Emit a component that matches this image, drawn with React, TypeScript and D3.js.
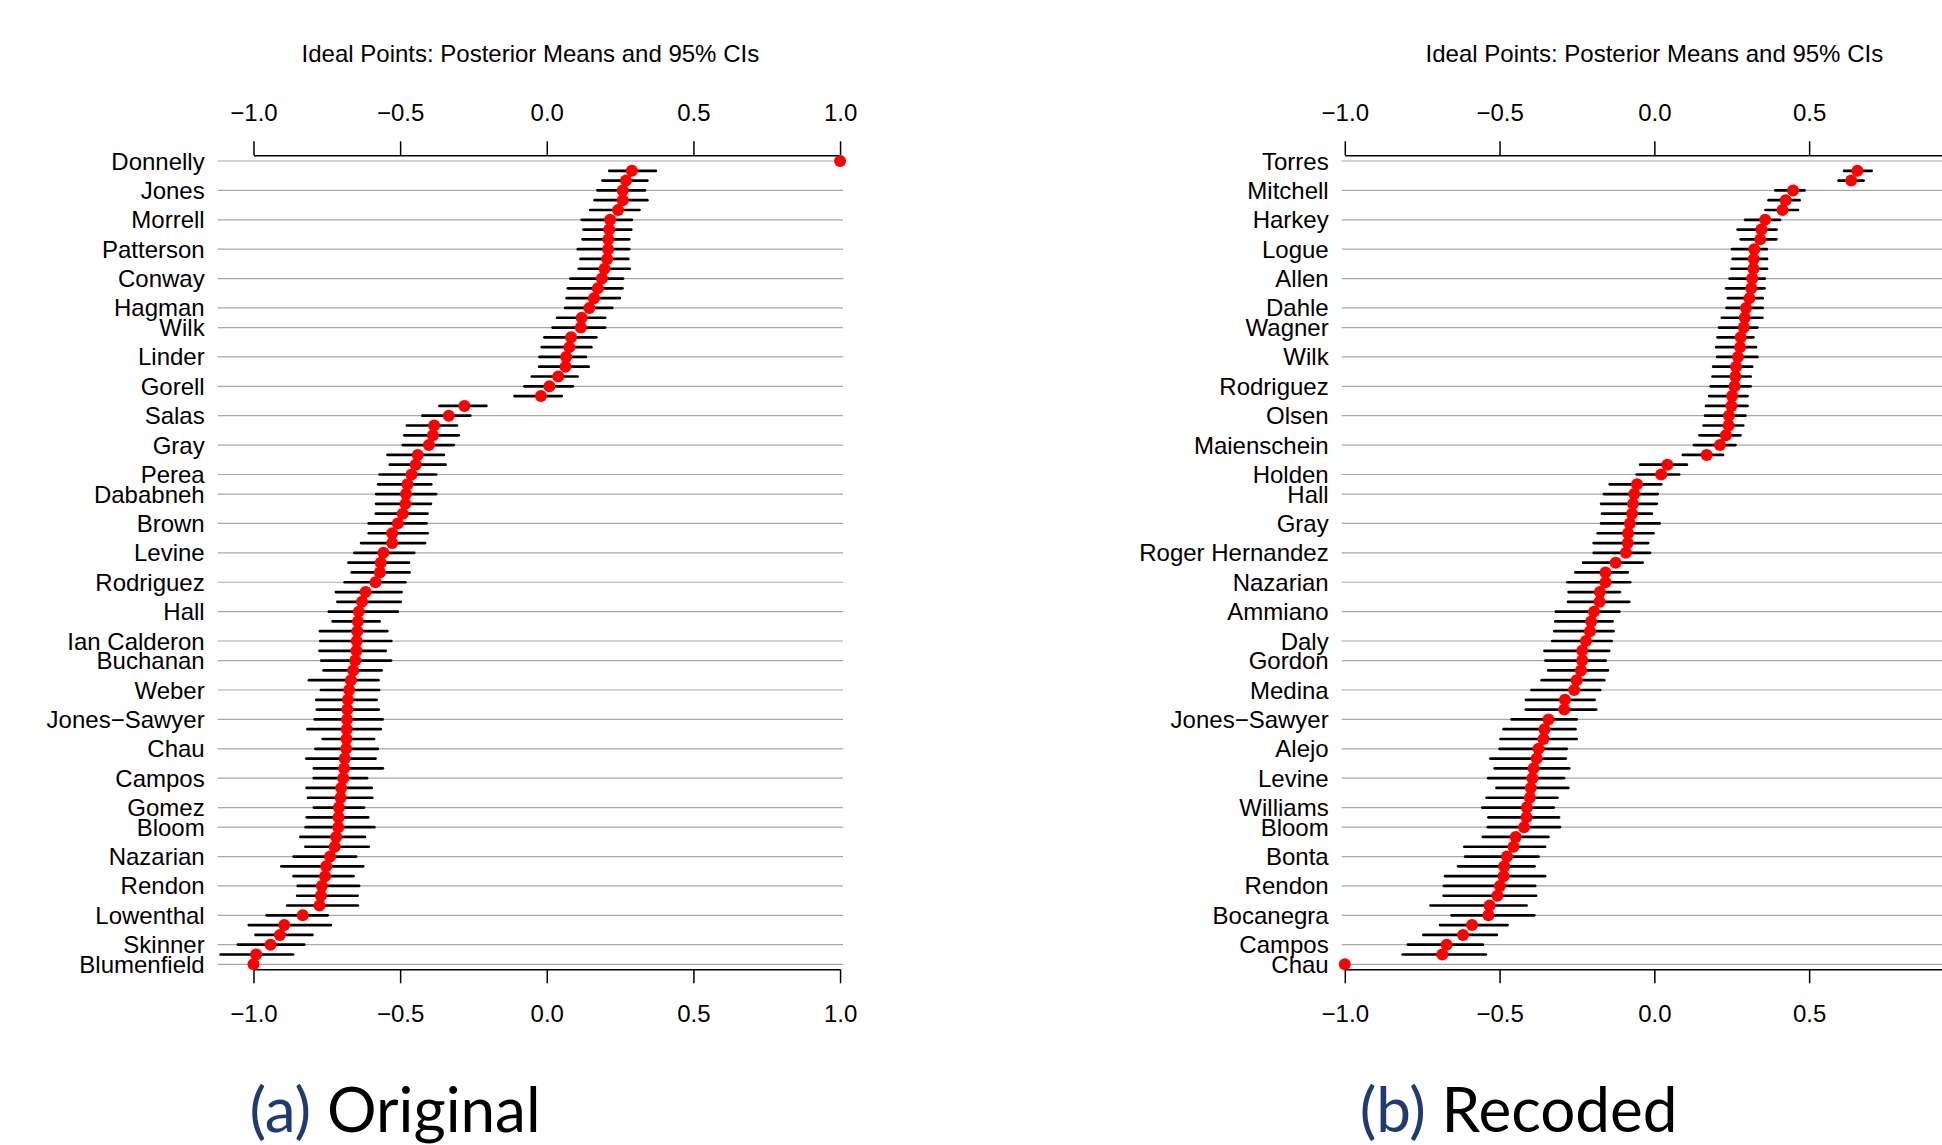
import React, { useRef, useEffect } from "react";
import * as d3 from "d3";

// rows that get a name and a grey guide line (same in both panels)
const labelRows = [0, 3, 6, 9, 12, 15, 17, 20, 23, 26, 29, 32, 34, 37, 40, 43, 46, 49, 51, 54, 57, 60, 63, 66, 68, 71, 74, 77, 80, 82];

const origNames = ["Donnelly", "Jones", "Morrell", "Patterson", "Conway", "Hagman", "Wilk", "Linder", "Gorell", "Salas", "Gray", "Perea", "Dababneh", "Brown", "Levine", "Rodriguez", "Hall", "Ian Calderon", "Buchanan", "Weber", "Jones\u2212Sawyer", "Chau", "Campos", "Gomez", "Bloom", "Nazarian", "Rendon", "Lowenthal", "Skinner", "Blumenfield"];
const recNames = ["Torres", "Mitchell", "Harkey", "Logue", "Allen", "Dahle", "Wagner", "Wilk", "Rodriguez", "Olsen", "Maienschein", "Holden", "Hall", "Gray", "Roger Hernandez", "Nazarian", "Ammiano", "Daly", "Gordon", "Medina", "Jones\u2212Sawyer", "Alejo", "Levine", "Williams", "Bloom", "Bonta", "Rendon", "Bocanegra", "Campos", "Chau"];

// (a) original coding: posterior means and 95% interval ends
const origEst = [1.0, 0.290, 0.270, 0.259, 0.259, 0.243, 0.216, 0.213, 0.210, 0.209, 0.206, 0.197, 0.188, 0.174, 0.161, 0.145, 0.119, 0.116, 0.083, 0.077, 0.066, 0.064, 0.039, 0.009, -0.020,
  -0.281, -0.334, -0.384, -0.388, -0.402, -0.440, -0.447, -0.461, -0.475, -0.480, -0.482, -0.491, -0.508, -0.527, -0.527, -0.557, -0.566, -0.569, -0.584, -0.618, -0.630, -0.641, -0.644, -0.646, -0.648, -0.649,
  -0.653, -0.660, -0.668, -0.674, -0.678, -0.680, -0.681, -0.682, -0.683, -0.684, -0.689, -0.691, -0.694, -0.701, -0.703, -0.709, -0.710, -0.711, -0.718, -0.723, -0.739, -0.752, -0.756, -0.767, -0.770, -0.775,
  -0.832, -0.895, -0.910, -0.942, -0.991, -1.0];
const origLo = [1.0, 0.213, 0.190, 0.173, 0.163, 0.148, 0.119, 0.125, 0.122, 0.106, 0.115, 0.109, 0.080, 0.072, 0.068, 0.063, 0.035, 0.020, -0.008, -0.017, -0.025, -0.026, -0.051, -0.076, -0.110,
  -0.366, -0.424, -0.477, -0.486, -0.491, -0.543, -0.535, -0.570, -0.575, -0.582, -0.582, -0.583, -0.607, -0.607, -0.633, -0.656, -0.676, -0.665, -0.689, -0.719, -0.714, -0.743, -0.730, -0.773, -0.772, -0.775,
  -0.769, -0.761, -0.811, -0.770, -0.786, -0.784, -0.791, -0.816, -0.764, -0.789, -0.820, -0.794, -0.794, -0.819, -0.814, -0.794, -0.818, -0.822, -0.840, -0.823, -0.863, -0.905, -0.863, -0.849, -0.851, -0.885,
  -0.955, -1.016, -0.993, -1.053, -1.112, -1.0];
const origHi = [1.0, 0.372, 0.343, 0.335, 0.343, 0.316, 0.290, 0.288, 0.281, 0.281, 0.278, 0.283, 0.260, 0.258, 0.249, 0.223, 0.199, 0.199, 0.169, 0.152, 0.133, 0.143, 0.105, 0.089, 0.051,
  -0.206, -0.261, -0.306, -0.300, -0.317, -0.351, -0.345, -0.377, -0.394, -0.377, -0.395, -0.407, -0.410, -0.406, -0.415, -0.452, -0.470, -0.468, -0.482, -0.495, -0.498, -0.508, -0.570, -0.544, -0.530, -0.549,
  -0.531, -0.563, -0.574, -0.572, -0.580, -0.573, -0.560, -0.566, -0.589, -0.576, -0.584, -0.559, -0.613, -0.597, -0.595, -0.623, -0.609, -0.588, -0.620, -0.607, -0.650, -0.626, -0.659, -0.640, -0.645, -0.644,
  -0.747, -0.736, -0.799, -0.827, -0.865, -1.0];

// (b) recoded
const recEst = [1.0, 0.656, 0.636, 0.448, 0.424, 0.414, 0.358, 0.346, 0.342, 0.323, 0.321, 0.320, 0.316, 0.313, 0.307, 0.296, 0.292, 0.289, 0.279, 0.277, 0.270, 0.264, 0.262, 0.259, 0.251, 0.249,
  0.241, 0.240, 0.231, 0.212, 0.169, 0.042, 0.022, -0.056, -0.065, -0.069, -0.072, -0.079, -0.085, -0.086, -0.092, -0.125, -0.158, -0.158, -0.176, -0.177, -0.195, -0.204, -0.208, -0.221, -0.233,
  -0.233, -0.237, -0.251, -0.259, -0.289, -0.291, -0.342, -0.355, -0.358, -0.374, -0.380, -0.390, -0.394, -0.399, -0.402, -0.412, -0.413, -0.421, -0.448, -0.455, -0.476, -0.485, -0.487, -0.499, -0.507,
  -0.532, -0.536, -0.589, -0.618, -0.671, -0.685, -1.0];
const recLo = [1.0, 0.613, 0.595, 0.391, 0.369, 0.359, 0.293, 0.269, 0.279, 0.251, 0.253, 0.249, 0.243, 0.232, 0.238, 0.233, 0.218, 0.209, 0.204, 0.200, 0.203, 0.190, 0.188, 0.182, 0.177, 0.167,
  0.164, 0.159, 0.146, 0.128, 0.092, -0.046, -0.057, -0.144, -0.163, -0.172, -0.169, -0.172, -0.183, -0.196, -0.196, -0.230, -0.255, -0.281, -0.277, -0.279, -0.318, -0.320, -0.323, -0.330, -0.355,
  -0.352, -0.343, -0.364, -0.397, -0.415, -0.415, -0.461, -0.487, -0.497, -0.500, -0.530, -0.516, -0.537, -0.510, -0.542, -0.556, -0.536, -0.538, -0.554, -0.614, -0.611, -0.634, -0.676, -0.680, -0.681,
  -0.723, -0.655, -0.692, -0.746, -0.796, -0.813, -1.0];
const recHi = [1.0, 0.702, 0.676, 0.485, 0.469, 0.464, 0.406, 0.395, 0.394, 0.363, 0.364, 0.364, 0.357, 0.356, 0.350, 0.350, 0.349, 0.333, 0.320, 0.328, 0.333, 0.316, 0.311, 0.311, 0.301, 0.301,
  0.294, 0.287, 0.278, 0.262, 0.222, 0.105, 0.080, 0.022, 0.011, 0.008, -0.008, 0.017, -0.003, -0.020, -0.014, -0.038, -0.086, -0.078, -0.111, -0.081, -0.113, -0.135, -0.132, -0.138, -0.146,
  -0.157, -0.150, -0.162, -0.175, -0.193, -0.188, -0.251, -0.255, -0.251, -0.283, -0.286, -0.275, -0.292, -0.278, -0.313, -0.325, -0.308, -0.305, -0.342, -0.353, -0.374, -0.387, -0.353, -0.385, -0.382,
  -0.413, -0.388, -0.474, -0.509, -0.554, -0.544, -1.0];

const xTicks = [-1.0, -0.5, 0.0, 0.5, 1.0];
const title = "Ideal Points: Posterior Means and 95% CIs";

const FONT = "'Liberation Sans', Arial, Helvetica, sans-serif";
const W = 1942;
const H = 1145;
const plotWidth = 625.3;
const plotTop = 155.3;
const plotBottom = 969.3;

interface PanelProps {
  est: number[];
  lo: number[];
  hi: number[];
  names: string[];
  left: number;
}

const Panel: React.FC<PanelProps> = ({ est, lo, hi, names, left }) => {
  const gRef = useRef<SVGGElement | null>(null);

  useEffect(() => {
    if (!gRef.current) return;
    const g = d3.select(gRef.current);
    g.selectAll("*").remove();

    const x = d3.scaleLinear()
      .domain([(d3.min(lo) as number) - 0.01, (d3.max(hi) as number) + 0.01])
      .range([0, plotWidth]);
    const y = d3.scaleLinear()
      .domain([0, est.length - 1])
      .range([161, 964.3]);

    // axis only spans -1..1, like R's axis(); ticks past the page edge are dropped
    const xa = d3.scaleLinear().domain([-1, 1]).range([x(-1), x(1)]);
    const ticks = xTicks.filter(t => left + xa(t) < W - 5);
    const fmt = d3.format(".1f");

    const top = g.append("g").attr("transform", `translate(0,${plotTop})`)
      .call(d3.axisTop(xa).tickValues(ticks).tickSize(14).tickSizeOuter(0).tickPadding(20).tickFormat(fmt as any));
    const bottom = g.append("g").attr("transform", `translate(0,${plotBottom})`)
      .call(d3.axisBottom(xa).tickValues(ticks).tickSize(14).tickSizeOuter(0).tickPadding(22).tickFormat(fmt as any));
    [top, bottom].forEach(a => {
      a.attr("font-size", 24).attr("font-family", FONT);
      a.selectAll("path, line").attr("stroke", "#000").attr("stroke-width", 1.5);
      a.selectAll("text").attr("fill", "#000");
    });

    // grey guide lines at named rows
    g.append("g").selectAll("line")
      .data(labelRows)
      .join("line")
      .attr("x1", 0).attr("x2", plotWidth)
      .attr("y1", d => y(d)).attr("y2", d => y(d))
      .attr("stroke", "#a8a8a8").attr("stroke-width", 1.2);

    g.append("g").selectAll("text")
      .data(labelRows)
      .join("text")
      .attr("x", -13)
      .attr("y", d => y(d) + 8.5)
      .attr("text-anchor", "end")
      .attr("font-family", FONT)
      .attr("font-size", 24)
      .text((d, i) => names[i]);

    // credible intervals
    g.append("g").selectAll("line")
      .data(est.map((_, i) => i).filter(i => hi[i] > lo[i]))
      .join("line")
      .attr("x1", i => x(lo[i])).attr("x2", i => x(hi[i]))
      .attr("y1", i => y(i)).attr("y2", i => y(i))
      .attr("stroke", "#000").attr("stroke-width", 2.7).attr("stroke-linecap", "round");

    g.append("g").selectAll("circle")
      .data(est)
      .join("circle")
      .attr("cx", d => x(d))
      .attr("cy", (d, i) => y(i))
      .attr("r", 6)
      .attr("fill", "#ff0000");

    g.append("text")
      .attr("x", plotWidth / 2)
      .attr("y", 62)
      .attr("text-anchor", "middle")
      .attr("font-family", FONT)
      .attr("font-size", 24)
      .text(title);
  }, [est, lo, hi, names, left]);

  return <g ref={gRef} transform={`translate(${left},0)`} />;
};

const Caption: React.FC<{ x: number; tag: string; text: string }> = ({ x, tag, text }) => (
  <text x={x} y={1131.7} textAnchor="middle" fontFamily="Lato, 'Open Sans', sans-serif" fontSize={62}>
    <tspan fill="#203a72">{tag}</tspan>
    <tspan fill="#000">{" " + text}</tspan>
  </text>
);

export default function App() {
  return (
    <svg width={W} height={H} style={{ position: "absolute", left: 0, top: 0, background: "#fff", display: "block" }}>
      <Panel est={origEst} lo={origLo} hi={origHi} names={origNames} left={217.7} />
      <Panel est={recEst} lo={recLo} hi={recHi} names={recNames} left={1341.7} />
      <Caption x={395} tag="(a)" text="Original" />
      <Caption x={1518.6} tag="(b)" text="Recoded" />
    </svg>
  );
}
